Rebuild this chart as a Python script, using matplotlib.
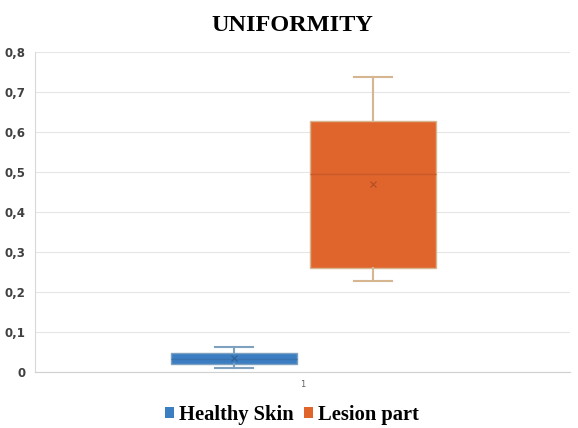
import matplotlib.pyplot as plt
from matplotlib.patches import Patch

# box statistics per group (read as quartiles / whiskers / mean)
groups = ["Healthy Skin", "Lesion part"]
q1 = [0.020, 0.260]
med = [0.032, 0.495]
q3 = [0.047, 0.628]
whislo = [0.010, 0.227]
whishi = [0.062, 0.738]
means = [0.035, 0.470]

box_colors = ["#3c7ec2", "#e0652d"]
whisk_colors = ["#7ea1bf", "#d6b591"]
offsets = [-0.128, 0.132]

fig = plt.figure(figsize=(5.78, 4.28), dpi=100)
ax = fig.add_axes([0.061, 0.131, 0.925, 0.748])

for i in range(len(groups)):
    stats = [dict(med=med[i], q1=q1[i], q3=q3[i], whislo=whislo[i],
                  whishi=whishi[i], mean=means[i], fliers=[])]
    ax.bxp(stats, positions=[1 + offsets[i]], widths=0.236,
           patch_artist=True, showmeans=True, showfliers=False,
           boxprops=dict(facecolor=box_colors[i], edgecolor=whisk_colors[i], linewidth=1),
           medianprops=dict(color="#c85a28" if i else "#3a72ad", linewidth=1),
           whiskerprops=dict(color=whisk_colors[i], linewidth=1.5),
           capprops=dict(color=whisk_colors[i], linewidth=1.5),
           capwidths=0.07,
           meanprops=dict(marker="x", markeredgecolor="#b04e22" if i else "#2e5f92",
                          markersize=4, markeredgewidth=0.8))

ax.set_xlim(0.5, 1.5)
ax.set_ylim(0, 0.8)
ax.set_yticks([0, 0.1, 0.2, 0.3, 0.4, 0.5, 0.6, 0.7, 0.8])
ax.set_yticklabels(["0", "0,1", "0,2", "0,3", "0,4", "0,5", "0,6", "0,7", "0,8"])
ax.set_xticks([1])
ax.set_xticklabels(["1"])
ax.tick_params(axis="y", length=0, labelsize=8.5, labelcolor="#404040", pad=7)
ax.tick_params(axis="x", length=0, labelsize=6, labelcolor="#606060", pad=6)
for lbl in ax.get_yticklabels():
    lbl.set_fontweight("bold")
ax.grid(axis="y", color="#e6e6e6", linewidth=0.8)
ax.set_axisbelow(True)
for s in ["top", "right"]:
    ax.spines[s].set_visible(False)
ax.spines["left"].set_color("#d9d9d9")
ax.spines["bottom"].set_color("#d0d0d0")

fig.text(0.505, 0.94, "UNIFORMITY", ha="center", va="center",
         fontfamily="Liberation Serif", fontweight="bold", fontsize=17.5)

handles = [Patch(facecolor=c, edgecolor="none") for c in box_colors]
fig.legend(handles, groups, loc="center", bbox_to_anchor=(0.505, 0.03), ncol=2,
           frameon=False, handlelength=0.45, handleheight=0.45, handletextpad=0.25,
           columnspacing=0.5,
           prop=dict(family="Liberation Serif", weight="bold", size=14.8))

fig.savefig("out.png", dpi=100)
